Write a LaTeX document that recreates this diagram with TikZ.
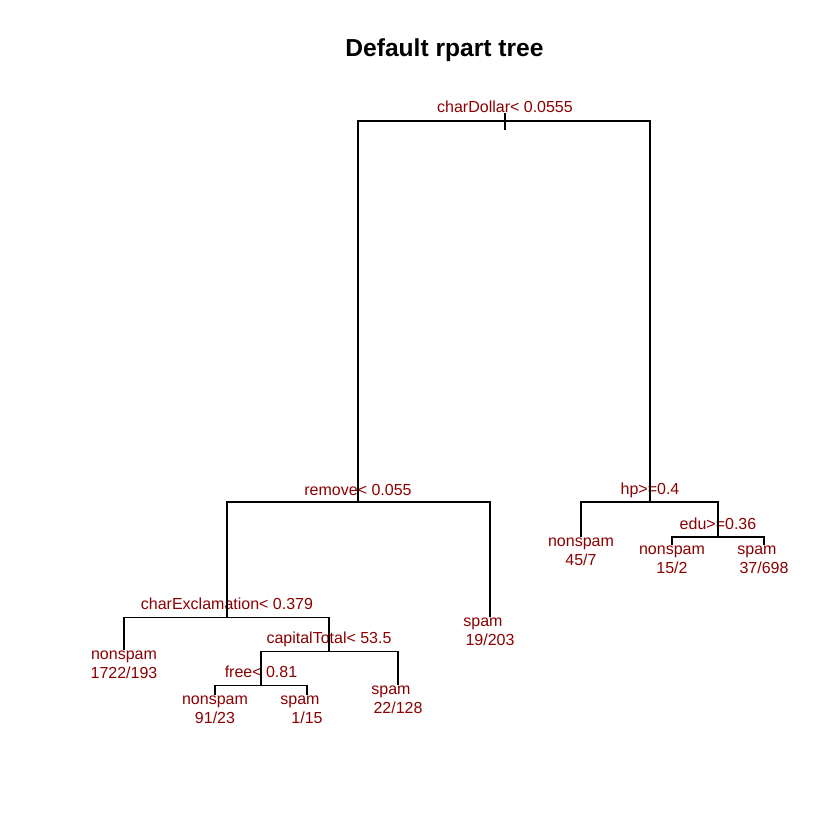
\documentclass[tikz,border=0pt]{standalone}
\usepackage{fontspec}
\setmainfont{Liberation Sans}
\definecolor{lab}{HTML}{8B0000}
\begin{document}
\begin{tikzpicture}[x=1pt,y=-1pt,
  edge/.style={draw=black,line width=1.3pt},
  lbl/.style={anchor=base,inner sep=0pt,text=lab,font=\fontsize{16}{19}\selectfont},
  ttl/.style={anchor=base,inner sep=0pt,font=\fontsize{24.6}{28}\selectfont\bfseries}]
\useasboundingbox (0,0) rectangle (840,840);
\node[ttl] (title) at (444.5,57) {Default rpart tree};
% split points (centre of each horizontal bar)
\coordinate (s1) at (505,121);
\coordinate (rt) at (505,113);
\coordinate (rb) at (505,130);
\coordinate (s2) at (358,502);
\coordinate (s3) at (650,502);
\coordinate (s4) at (227,617.5);
\coordinate (s5) at (718,537);
\coordinate (s6) at (329,651.5);
\coordinate (s7) at (261,685.5);
% leaf ends
\coordinate (f1) at (124,650);
\coordinate (f2) at (215,695);
\coordinate (f3) at (307,695);
\coordinate (f4) at (398,685);
\coordinate (f5) at (490,617);
\coordinate (f6) at (581,537);
\coordinate (f7) at (672,545);
\coordinate (f8) at (764,545);
% split labels
\node[lbl] (t1) at ([yshift=8pt]s1) {charDollar< 0.0555};
\node[lbl] (t2) at ([yshift=7pt]s2) {remove< 0.055};
\node[lbl] (t3) at ([yshift=8pt]s3) {hp>=0.4};
\node[lbl] (t5) at ([yshift=8pt]s5) {edu>=0.36};
\node[lbl] (t4) at ([yshift=8.5pt]s4) {charExclamation< 0.379};
\node[lbl] (t6) at ([yshift=8.5pt]s6) {capitalTotal< 53.5};
\node[lbl] (t7) at ([yshift=8pt]s7) {free< 0.81};
% connectors
\draw[edge] (rt) -- (rb);
\draw[edge] (s2) -- (s2 |- s1) -- (s3 |- s1) -- (s3);
\draw[edge] (s4) -- (s4 |- s2) -- (f5 |- s2) -- (f5);
\draw[edge] (f6) -- (f6 |- s3) -- (s5 |- s3) -- (s5);
\draw[edge] (f1) -- (f1 |- s4) -- (s6 |- s4) -- (s6);
\draw[edge] (s7) -- (s7 |- s6) -- (f4 |- s6) -- (f4);
\draw[edge] (f2) -- (f2 |- s7) -- (f3 |- s7) -- (f3);
\draw[edge] (f7) -- (f7 |- s5) -- (f8 |- s5) -- (f8);
% leaf labels
\node[lbl] (c1) at ([yshift=-9pt]f1) {nonspam};
\node[lbl] (n1) at ([yshift=-28pt]f1) {1722/193};
\node[lbl] (c2) at ([yshift=-9pt]f2) {nonspam};
\node[lbl] (n2) at ([yshift=-28pt]f2) {91/23};
\node[lbl] (c3) at ([xshift=-7pt,yshift=-9pt]f3) {spam};
\node[lbl] (n3) at ([yshift=-28pt]f3) {1/15};
\node[lbl] (c4) at ([xshift=-7pt,yshift=-9pt]f4) {spam};
\node[lbl] (n4) at ([yshift=-28pt]f4) {22/128};
\node[lbl] (c5) at ([xshift=-7pt,yshift=-9pt]f5) {spam};
\node[lbl] (n5) at ([yshift=-28pt]f5) {19/203};
\node[lbl] (c6) at ([yshift=-9pt]f6) {nonspam};
\node[lbl] (n6) at ([yshift=-28pt]f6) {45/7};
\node[lbl] (c7) at ([yshift=-9pt]f7) {nonspam};
\node[lbl] (n7) at ([yshift=-28pt]f7) {15/2};
\node[lbl] (c8) at ([xshift=-7pt,yshift=-9pt]f8) {spam};
\node[lbl] (n8) at ([yshift=-28pt]f8) {37/698};
\end{tikzpicture}
\end{document}
